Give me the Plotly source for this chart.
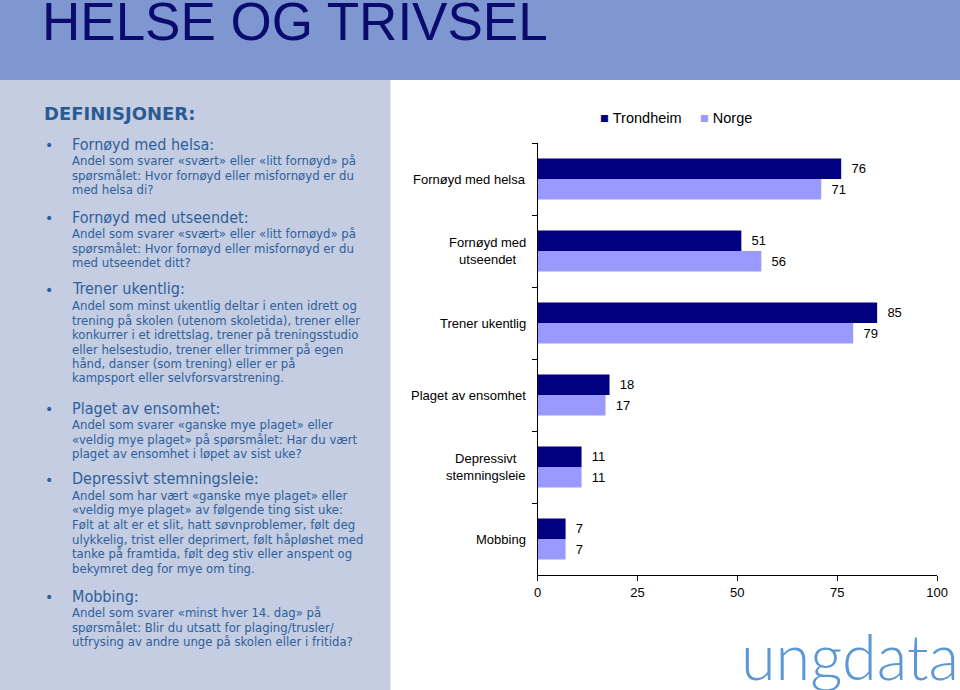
import plotly.graph_objects as go

categories = ["Fornøyd med helsa", "Fornøyd med utseendet", "Trener ukentlig",
              "Plaget av ensomhet", "Depressivt stemningsleie", "Mobbing"]
category_labels = ["Fornøyd med helsa", "Fornøyd med<br>utseendet", "Trener ukentlig",
                   "Plaget av ensomhet", "Depressivt<br>stemningsleie", "Mobbing"]
series_names = ["Trondheim", "Norge"]
trondheim = [76, 51, 85, 18, 11, 7]
norge = [71, 56, 79, 17, 11, 7]
x_ticks = [0, 25, 50, 75, 100]

title_text = "HELSE OG TRIVSEL"
definitions = [
    ("Fornøyd med helsa:", 145, [
        "Andel som svarer «svært» eller «litt fornøyd» på",
        "spørsmålet: Hvor fornøyd eller misfornøyd er du",
        "med helsa di?"]),
    ("Fornøyd med utseendet:", 218, [
        "Andel som svarer «svært» eller «litt fornøyd» på",
        "spørsmålet: Hvor fornøyd eller misfornøyd er du",
        "med utseendet ditt?"]),
    ("Trener ukentlig:", 290, [
        "Andel som minst ukentlig deltar i enten idrett og",
        "trening på skolen (utenom skoletida), trener eller",
        "konkurrer i et idrettslag, trener på treningsstudio",
        "eller helsestudio, trener eller trimmer på egen",
        "hånd, danser (som trening) eller er på",
        "kampsport eller selvforsvarstrening."]),
    ("Plaget av ensomhet:", 409, [
        "Andel som svarer «ganske mye plaget» eller",
        "«veldig mye plaget» på spørsmålet: Har du vært",
        "plaget av ensomhet i løpet av sist uke?"]),
    ("Depressivt stemningsleie:", 480, [
        "Andel som har vært «ganske mye plaget» eller",
        "«veldig mye plaget» av følgende ting sist uke:",
        "Følt at alt er et slit, hatt søvnproblemer, følt deg",
        "ulykkelig, trist eller deprimert, følt håpløshet med",
        "tanke på framtida, følt deg stiv eller anspent og",
        "bekymret deg for mye om ting."]),
    ("Mobbing:", 597, [
        "Andel som svarer «minst hver 14. dag» på",
        "spørsmålet: Blir du utsatt for plaging/trusler/",
        "utfrysing av andre unge på skolen eller i fritida?"]),
]

WX, H = 951, 690          # effective paper width/height used for positioning
TXT = "#2f5f9c"
COND = "DejaVu Sans Condensed, DejaVu Sans"
ARIAL = "Liberation Sans, Arial"
colors = ["#000080", "#9999ff"]

fig = go.Figure()
for name, vals, col in zip(series_names, [trondheim, norge], colors):
    fig.add_trace(go.Bar(
        y=categories, x=vals, name=name, orientation="h",
        marker=dict(color=col, line=dict(width=0)),
        text=vals, texttemplate="\u00a0\u00a0%{x}", textposition="outside",
        textfont=dict(family=ARIAL, size=13, color="black"),
        constraintext="none", cliponaxis=False, showlegend=False))

shapes = [
    dict(type="rect", xref="paper", yref="paper", x0=-0.02, x1=1.02, y0=1 - 80 / H, y1=1.02,
         fillcolor="#7f97d1", line=dict(width=0), layer="below"),
    dict(type="rect", xref="paper", yref="paper", x0=-0.02, x1=389 / WX, y0=-0.02, y1=1 - 80 / H,
         fillcolor="#c4cde1", line=dict(width=0), layer="below"),
]

annotations = [
    dict(text=title_text, xref="paper", yref="paper", x=36 / WX, y=1 - 22 / H,
         xanchor="left", yanchor="middle", showarrow=False,
         font=dict(family=ARIAL, size=53, color="#0b0b6f")),
    dict(text="<b>DEFINISJONER:</b>", xref="paper", yref="paper", x=38 / WX, y=1 - 113 / H,
         xanchor="left", yanchor="middle", showarrow=False,
         font=dict(family="DejaVu Sans", size=18, color="#2a5a94")),
]
for head, y0, lines in definitions:
    annotations.append(dict(text="•", xref="paper", yref="paper", x=39 / WX, y=1 - y0 / H,
                            xanchor="left", yanchor="middle", showarrow=False,
                            font=dict(family="DejaVu Sans", size=14, color=TXT)))
    annotations.append(dict(text=head, xref="paper", yref="paper", x=66 / WX, y=1 - (y0 - 1) / H,
                            xanchor="left", yanchor="middle", showarrow=False,
                            font=dict(family=COND, size=16, color=TXT)))
    for i, ln in enumerate(lines):
        yy = y0 + 15.5 + i * 14.5
        annotations.append(dict(text=ln, xref="paper", yref="paper", x=66 / WX, y=1 - yy / H,
                                xanchor="left", yanchor="middle", showarrow=False,
                                font=dict(family=COND, size=13, color=TXT)))

for cat, lab in zip(categories, category_labels):
    annotations.append(dict(text=lab, xref="paper", yref="y", x=527 / WX, y=cat,
                            xanchor="right", yanchor="middle", align="center", showarrow=False,
                            font=dict(family=ARIAL, size=13, color="black")))

# legend entries
for name, col, lx in zip(series_names, colors, [598, 698]):
    annotations.append(dict(
        text=f"<span style='color:{col}'>■</span>\u00a0{name}",
        xref="paper", yref="paper", x=lx / WX, y=1 - 118 / H,
        xanchor="left", yanchor="middle", showarrow=False,
        font=dict(family=ARIAL, size=14.5, color="black")))

annotations.append(dict(text="ungdata", xref="paper", yref="paper", x=851 / WX, y=1 - 655 / H,
                        xanchor="center", yanchor="middle", showarrow=False,
                        font=dict(family="Lato", size=63, color="#5b98d4", weight=300)))

fig.update_layout(
    autosize=True, margin=dict(l=0, r=0, t=0, b=0, pad=0),
    paper_bgcolor="white", plot_bgcolor="white",
    barmode="group", bargap=0.43, bargroupgap=0,
    showlegend=False,
    xaxis=dict(domain=[537 / WX, 939 / WX], range=[0, 100], tickvals=x_ticks,
               showgrid=False, zeroline=False, showline=True, linecolor="black", linewidth=1,
               ticks="outside", ticklen=5, tickcolor="black",
               tickfont=dict(family=ARIAL, size=13, color="black")),
    yaxis=dict(domain=[1 - 575 / H, 1 - 143 / H], autorange="reversed",
               categoryorder="array", categoryarray=categories,
               showticklabels=False, showgrid=False, zeroline=False,
               showline=True, linecolor="black", linewidth=1,
               ticks="outside", ticklen=5, tickcolor="black", tickson="boundaries"),
    shapes=shapes, annotations=annotations,
)

post = (
    "document.documentElement.style.margin='0';"
    "document.documentElement.style.overflow='hidden';"
    "document.body.style.margin='0';document.body.style.padding='0';"
    "document.body.style.overflow='hidden';"
    "var d=document.getElementById('{plot_id}');"
    "d.style.position='fixed';d.style.left='0px';d.style.top='0px';"
    "d.style.width='100vw';d.style.height='100vh';"
    "Plotly.Plots.resize(d);"
)

fig.write_html("out.html", config={"displayModeBar": False, "responsive": True},
               default_width="100vw", default_height="100vh", post_script=post)
